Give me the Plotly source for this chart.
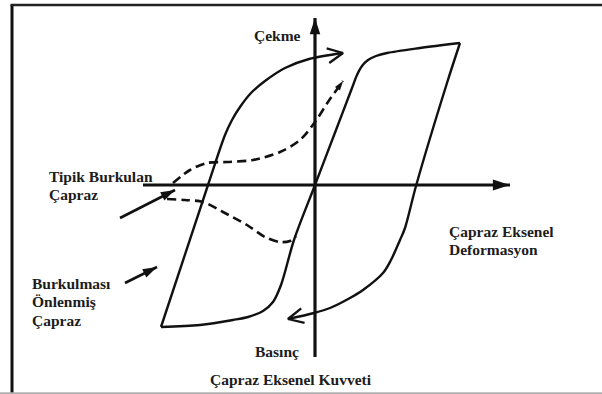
import math
import plotly.graph_objects as go

# ---- data: deformation (d) and force (f), schematic units ----
# buckling-restrained brace loop
brb_load_d = [-154, -107, -90, -83, -75, -64, -50, -30, -6, 28]
brb_load_f = [-142, 0, 50, 65, 78, 92, 104, 117, 126, 132]

brb_cycle_d = [-154, -115, -82, -67, -52, -42, -34, -21, 0, 21, 37, 42, 47, 53, 61, 72, 105, 145]
brb_cycle_f = [-142, -140, -135, -132, -126, -117, -100, -55, 0, 55, 97, 110, 119, 125, 129, 132, 137, 142]

brb_unload_d = [145, 132, 101, 90, 85, 76, 68, 48, 35, 15, -1, -27]
brb_unload_f = [142, 102, -1, -43, -55, -75, -88, -105, -113, -123, -128, -134]

# typical buckling brace
buck_tension_d = [-142, -125, -108, -88, -62, -35, -15, 0, 13, 28]
buck_tension_f = [2, 15, 22, 23, 25, 33, 45, 63, 83, 104]

buck_comp_d = [-148, -130, -112, -92, -68, -50, -35, -25, -19]
buck_comp_f = [-14, -15, -17, -27, -40, -52, -57, -56, -51]

# axes
axis_x_d = [-172, 195]
axis_x_f = [0, 0]
axis_y_d = [0, 0]
axis_y_f = [-172, 167]

# pointer arrows (start, tip)
ptr_buck_d = [-195, -140]
ptr_buck_f = [-33, -5]
ptr_brb_d = [-190, -158]
ptr_brb_f = [-98, -82]

# labels
lbl_tension = "Çekme"
lbl_comp = "Basınç"
lbl_force = "Çapraz Eksenel Kuvveti"
lbl_buck = ["Tipik Burkulan", "Çapraz"]
lbl_brb = ["Burkulması", "Önlenmiş", "Çapraz"]
lbl_def = ["Çapraz Eksenel", "Deformasyon"]

INK = "#111111"
TXT = "#1c1c1c"
FONT = dict(family="Liberation Serif", size=15.5, color=TXT, weight=700)

fig = go.Figure()


def add_curve(xs, ys, width, dash=None, shape="spline", smoothing=0.9):
    fig.add_trace(go.Scatter(
        x=xs, y=ys, mode="lines",
        line=dict(color=INK, width=width, dash=dash, shape=shape, smoothing=smoothing),
        hoverinfo="skip"))


def add_chevron(xs, ys, length=17, half_deg=26, width=2.3):
    tx, ty = xs[-1], ys[-1]
    ang = math.atan2(ty - ys[-2], tx - xs[-2]) + math.pi
    a1 = ang + math.radians(half_deg)
    a2 = ang - math.radians(half_deg)
    cx = [tx + length * math.cos(a1), tx, tx + length * math.cos(a2)]
    cy = [ty + length * math.sin(a1), ty, ty + length * math.sin(a2)]
    fig.add_trace(go.Scatter(x=cx, y=cy, mode="lines",
                             line=dict(color=INK, width=width),
                             hoverinfo="skip"))


def add_head(xs, ys, size):
    dx = xs[-1] - xs[-2]
    dy = ys[-1] - ys[-2]
    angle = math.degrees(math.atan2(dx, dy))
    fig.add_trace(go.Scatter(x=[xs[-1]], y=[ys[-1]], mode="markers",
                             marker=dict(symbol="arrow", size=size, angle=angle,
                                         color=INK, line=dict(width=0)),
                             hoverinfo="skip"))


# axes
add_curve(axis_x_d, axis_x_f, 3.2, shape="linear")
add_head(axis_x_d, axis_x_f, 18)
add_curve(axis_y_d, axis_y_f, 3.2, shape="linear")
add_head(axis_y_d, axis_y_f, 17)

# BRB loop
add_curve(brb_load_d, brb_load_f, 2.4)
add_chevron(brb_load_d, brb_load_f)
add_curve(brb_cycle_d, brb_cycle_f, 2.4)
add_curve(brb_unload_d, brb_unload_f, 2.4)
add_chevron(brb_unload_d, brb_unload_f)

# buckling brace (dashed)
add_curve(buck_tension_d, buck_tension_f, 2.6, dash="9px,5px")
add_head(buck_tension_d, buck_tension_f, 10)
add_curve(buck_comp_d, buck_comp_f, 2.6, dash="9px,5px")

# pointer arrows
add_curve(ptr_buck_d, ptr_buck_f, 2.6, shape="linear")
add_head(ptr_buck_d, ptr_buck_f, 15)
add_curve(ptr_brb_d, ptr_brb_f, 2.6, shape="linear")
add_head(ptr_brb_d, ptr_brb_f, 15)

# text
ann = []
ann.append(dict(x=-63, y=150, text=lbl_tension, xanchor="left"))
ann.append(dict(x=-62, y=-166, text=lbl_comp, xanchor="left"))
ann.append(dict(x=-24, y=-194, text=lbl_force, xanchor="center"))
for i, t in enumerate(lbl_buck):
    ann.append(dict(x=-268, y=9 - 18 * i, text=t, xanchor="left"))
for i, t in enumerate(lbl_brb):
    ann.append(dict(x=-285, y=-98 - 18.5 * i, text=t, xanchor="left"))
for i, t in enumerate(lbl_def):
    ann.append(dict(x=132, y=-46 - 18 * i, text=t, xanchor="left"))
for a in ann:
    a.update(xref="x", yref="y", showarrow=False, yanchor="middle", font=FONT)

shapes = [
    dict(type="line", xref="x", yref="y", x0=-303, x1=-303, y0=180, y1=-212,
         line=dict(color="#111111", width=3)),
    dict(type="line", xref="x", yref="y", x0=-304.5, x1=290, y0=180, y1=180,
         line=dict(color="#222222", width=2.5)),
    dict(type="line", xref="x", yref="y", x0=-320, x1=290, y0=-208.3, y1=-208.3,
         line=dict(color="#b0b0b0", width=2)),
]

fig.update_layout(
    width=602, height=394,
    margin=dict(l=0, r=0, t=0, b=0),
    paper_bgcolor="white", plot_bgcolor="white",
    showlegend=False,
    xaxis=dict(range=[-315, 287], visible=False, fixedrange=True),
    yaxis=dict(range=[-209, 185], visible=False, fixedrange=True),
    annotations=ann,
    shapes=shapes,
)

fig.write_html(
    "out.html",
    config={"displayModeBar": False},
    post_script="document.body.style.margin='0';document.body.style.overflow='hidden';",
)
